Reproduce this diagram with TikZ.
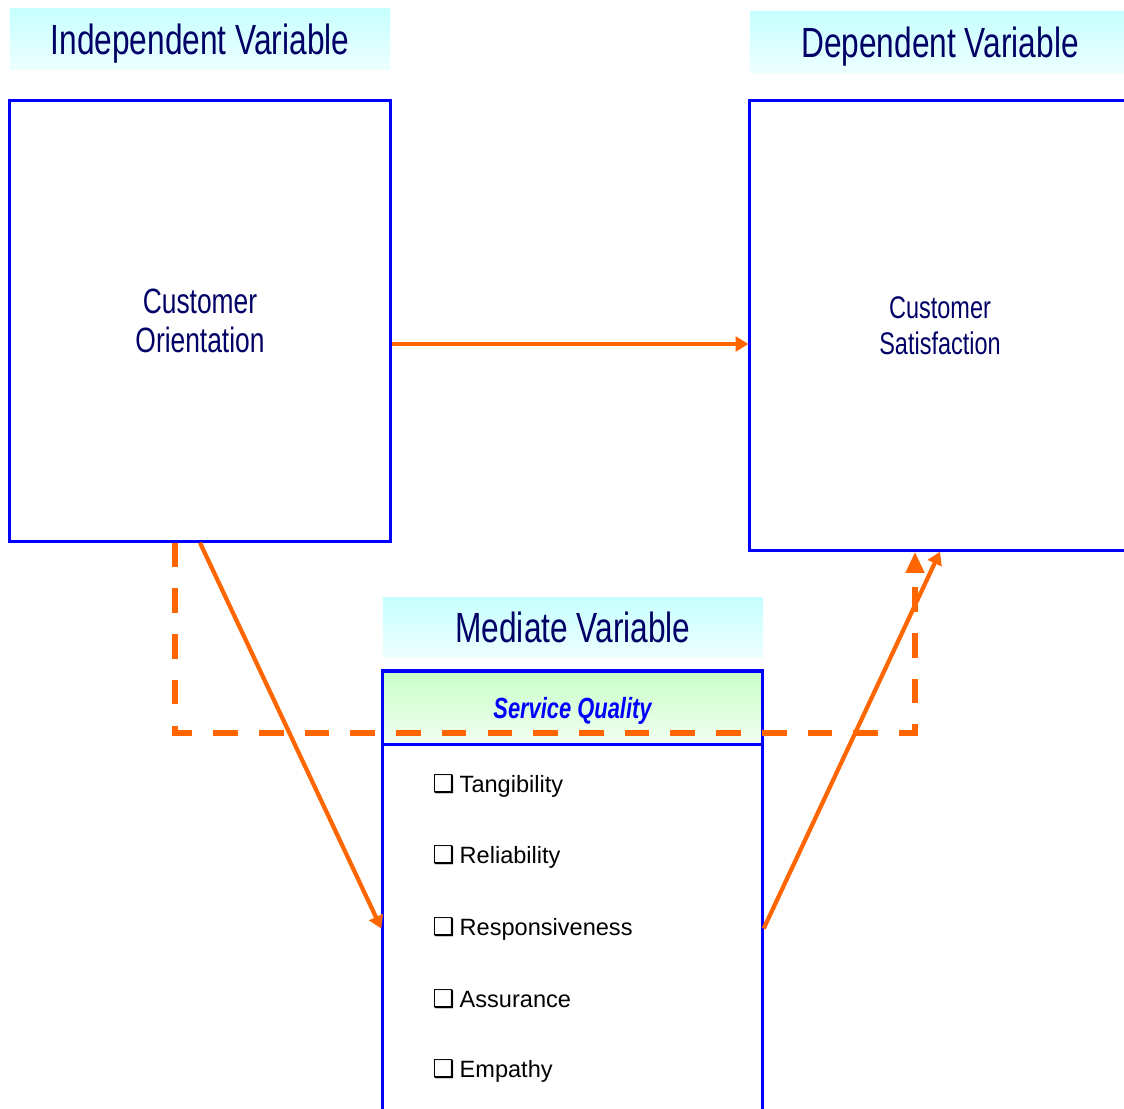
\documentclass[tikz,border=0pt]{standalone}
\usepackage{fontspec}
\setmainfont{Liberation Sans}
\newfontfamily\narrowfont{Liberation Sans}[FakeStretch=0.75]
\newfontfamily\symfont{DejaVu Sans}
\usepackage{tikz}
\tikzset{>=latex}
\usetikzlibrary{arrows.meta}
\definecolor{navy}{HTML}{000066}
\definecolor{boxblue}{HTML}{0000FF}
\definecolor{orng}{HTML}{FF6600}
\tikzset{
  header/.style={inner sep=0pt, minimum width=3.8cm, minimum height=0.61cm,
    text height=8.6pt, text depth=0pt,
    top color=cyan!22, bottom color=cyan!7, text=navy,
    font=\narrowfont\fontsize{12}{14}\selectfont},
  varbox/.style={draw=boxblue, line width=0.9pt, fill=white, minimum width=3.8cm,
    inner sep=0pt, align=center, text=navy},
  link/.style={draw=orng, line width=1.2pt, -{Triangle[length=3.6pt,width=4.2pt]}},
  medlink/.style={draw=orng, line width=1.8pt, dash pattern=on 7pt off 6pt,
    -{Triangle[length=6pt,width=5pt]}},
  item/.style={anchor=west, inner sep=0pt, font=\fontsize{6.7}{8}\selectfont}
}
\newcommand{\cbx}{{\symfont\fontsize{7}{8}\selectfont ❑}\hspace{1.4pt}}

\begin{document}
\begin{tikzpicture}[x=0.01cm, y=-0.01cm]
\useasboundingbox[fill=white] (0,0) rectangle (1124,1108);

\node[header] (hdrIV) at (200,39) {Independent Variable};
\node[header] (hdrDV) at (940,42.5) {Dependent Variable};
\node[header, minimum height=0.6cm] (hdrMV) at (573,627) {Mediate Variable};

\node[varbox, minimum height=4.4cm, font=\narrowfont\fontsize{10}{11.1}\selectfont] (iv) at (200,321) {Customer\\Orientation};
\node[varbox, minimum height=4.49cm, font=\narrowfont\fontsize{8.9}{10.2}\selectfont] (dv) at (940,325.5) {Customer\\Satisfaction};

\node[varbox, minimum width=3.79cm, minimum height=0.74cm, top color=green!22, bottom color=green!5,
  text height=5.9pt, text depth=0pt, text=boxblue,
  font=\narrowfont\bfseries\itshape\fontsize{8.3}{10}\selectfont] (sq) at (572.5,708) {Service Quality};
\node[varbox, minimum width=3.79cm, minimum height=3.67cm] (dims) at (572.5,928.5) {};

\node[item] (tang) at (432,786) {\cbx Tangibility};
\node[item] (rel) at (432,857) {\cbx Reliability};
\node[item] (resp) at (432,929) {\cbx Responsiveness};
\node[item] (assur) at (432,999) {\cbx Assurance};
\node[item] (emp) at (432,1071) {\cbx Empathy};

\coordinate (h) at (0,344);
\coordinate (d1) at (175,733);
\coordinate (d2) at (915,733);

\draw[medlink] (iv.south -| d1) -- (d1) -- (d2) -- (d2 |- dv.south);
\draw[link] (iv.east |- h) -- (dv.west |- h);
\draw[link] (iv.south) -- (dims.west);
\draw[link] (dims.east) -- (dv.south);
\end{tikzpicture}
\end{document}
